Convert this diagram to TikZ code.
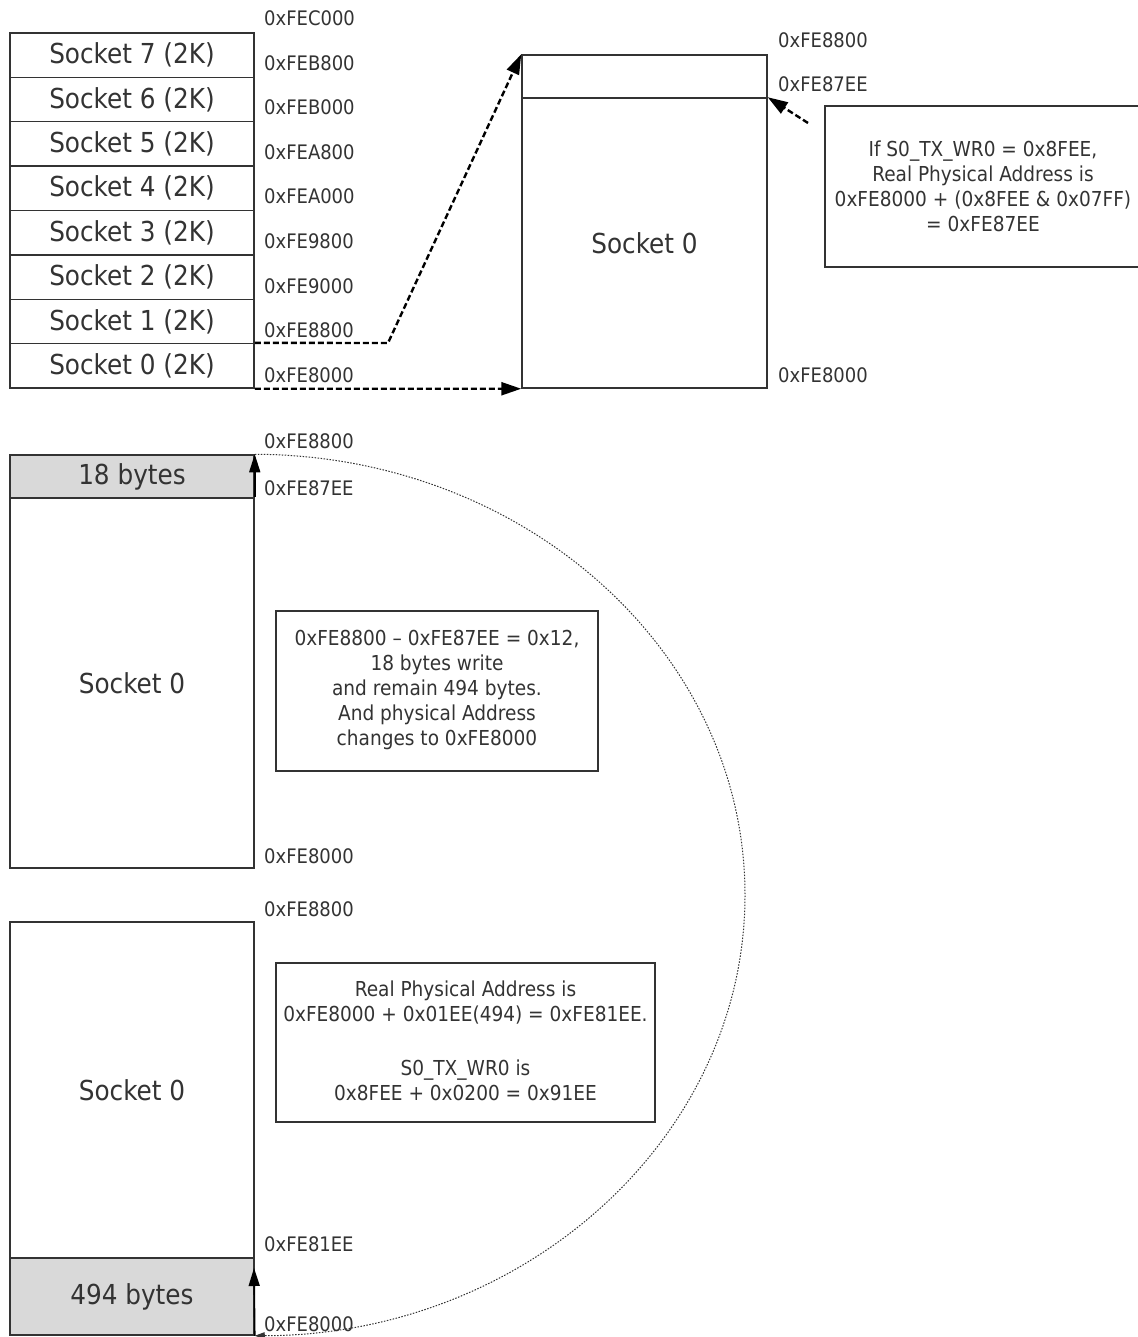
\documentclass[tikz,border=0pt]{standalone}
\usepackage{fontspec}
\setmainfont{DejaVu Sans Condensed}
\usetikzlibrary{arrows.meta}
\definecolor{ln}{HTML}{333333}
\definecolor{txt}{HTML}{333333}
\definecolor{gr}{HTML}{D9D9D9}
\tikzset{
  memrow/.style={draw=ln, line width=1.5pt, rectangle, inner sep=0pt, minimum width=244pt, text=txt, font=\fontsize{27.5}{32}\selectfont},
  graybox/.style={memrow, fill=gr},
  addr/.style={anchor=west, inner sep=0pt, text=txt, font=\fontsize{20}{24}\selectfont},
  notebox/.style={draw=ln, line width=1.5pt, rectangle, inner sep=0pt},
  notetext/.style={align=center, inner sep=0pt, text=txt, font=\fontsize{20.6}{25}\selectfont},
  dsh/.style={draw=black, line width=2.4pt, dash pattern=on 6pt off 3pt, -{Triangle[length=20pt,width=13pt,sep=0pt]}},
  solidarrow/.style={draw=black, line width=1.6pt, -{Triangle[length=18pt,width=11pt]}},
  dotarc/.style={draw=ln, line width=1pt, dash pattern=on 1.5pt off 1.5pt, -{Triangle[length=10pt,width=7pt]}},
}
\begin{document}
\begin{tikzpicture}[x=1pt,y=-1pt]
\useasboundingbox (0,0) rectangle (1137,1337);
% ---- top stack ----
\foreach \i in {0,...,7}{
  \pgfmathsetmacro{\yy}{33+(7-\i)*44.375+22.19}
  \node[memrow, minimum height=44.375pt] (s\i) at (132,\yy) {Socket \i\ (2K)};
}
\node[addr] (aC000) at (264,18) {0xFEC000};
\node[addr] (aB800) at (264,63) {0xFEB800};
\node[addr] (aB000) at (264,107) {0xFEB000};
\node[addr] (aA800) at (264,152) {0xFEA800};
\node[addr] (aA000) at (264,196) {0xFEA000};
\node[addr] (a9800) at (264,241) {0xFE9800};
\node[addr] (a9000) at (264,286) {0xFE9000};
\node[addr] (a8800) at (264,330) {0xFE8800};
\node[addr] (a8000) at (264,375) {0xFE8000};
% ---- socket 0 detail ----
\node[memrow, minimum width=245pt, minimum height=43pt] (btop) at (644.5,76.5) {};
\node[memrow, minimum width=245pt, minimum height=290pt] (b0) at (644.5,243) {Socket 0};
\node[addr] (r8800) at (778,40) {0xFE8800};
\node[addr] (r87EE) at (778,84) {0xFE87EE};
\node[addr] (r8000) at (778,375) {0xFE8000};
\coordinate (bend) at (388,343);
\draw[dsh] (s0.north east) -- (bend) -- (btop.north west);
\draw[dsh] (s0.south east) -- (b0.south west);
% note 1
\node[notebox, minimum width=330pt, minimum height=161pt] (n1) at (990,186.5) {};
\node[notetext] (n1t) at (983,186) {If S0\_TX\_WR0 = 0x8FEE,\\Real Physical Address is\\0xFE8000 + (0x8FEE \& 0x07FF)\\= 0xFE87EE};
\coordinate (n1a) at (808,123);
\draw[dsh] (n1a) -- (b0.north east);
% ---- middle ----
\node[graybox, minimum height=43pt] (m18) at (132,476.5) {18 bytes};
\node[memrow, minimum height=370pt] (m0) at (132,683) {Socket 0};
\node[addr] (m8800) at (264,441) {0xFE8800};
\node[addr] (m87EE) at (264,488) {0xFE87EE};
\node[addr] (m8000) at (264,856) {0xFE8000};
\draw[solidarrow] (m0.north east) -- (m18.north east);
\node[notebox, minimum width=322pt, minimum height=160pt] (n2) at (437,691) {};
\node[notetext] (n2t) at (437,690) {0xFE8800 -- 0xFE87EE = 0x12,\\18 bytes write\\and remain 494 bytes.\\And physical Address\\changes to 0xFE8000};
% ---- bottom ----
\node[memrow, minimum height=336pt] (l0) at (132,1090) {Socket 0};
\node[graybox, minimum height=77pt] (l494) at (132,1296.5) {494 bytes};
\node[addr] (l8800) at (264,909) {0xFE8800};
\node[addr] (l81EE) at (264,1244) {0xFE81EE};
\node[addr] (l8000) at (264,1324) {0xFE8000};
\coordinate (l494t) at (254,1268);
\draw[solidarrow] (l494.south east) -- (l494t);
\node[notebox, minimum width=379pt, minimum height=159pt] (n3) at (465.5,1042.5) {};
\node[notetext] (n3t) at (465.5,1041) {Real Physical Address is\\0xFE8000 + 0x01EE(494) = 0xFE81EE.\\[29pt]S0\_TX\_WR0 is\\0x8FEE + 0x0200 = 0x91EE};
% ---- dotted wrap arc ----
\coordinate (arcR) at (745,895);
\draw[dotarc] (m18.north east) .. controls (525,455) and (745,652) .. (arcR) .. controls (745,1138) and (525,1335) .. (l494.south east);
\end{tikzpicture}
\end{document}
